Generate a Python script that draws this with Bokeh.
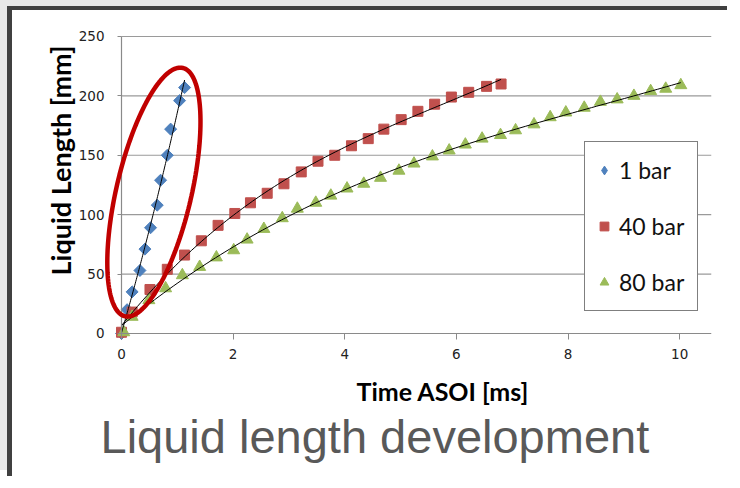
from bokeh.plotting import figure
from bokeh.models import Range1d, FixedTicker, Title, Legend, LegendItem, PolyAnnotation
from bokeh.embed import file_html
from bokeh.resources import INLINE
import numpy as np

# ---- data ----
t_1bar = [0.0, 0.10, 0.19, 0.33, 0.42, 0.52, 0.64, 0.70, 0.82, 0.88, 1.04, 1.13]
len_1bar = [0, 20, 35, 53, 71, 89, 108, 129, 150, 172, 196, 207]

t_40bar = [0.0, 0.19, 0.51, 0.82, 1.13, 1.43, 1.73, 2.03, 2.31, 2.61, 2.91, 3.22,
           3.52, 3.82, 4.12, 4.42, 4.70, 5.01, 5.31, 5.61, 5.91, 6.22, 6.54, 6.80]
len_40bar = [1, 18, 37, 54, 66, 78, 91, 101, 110, 118, 126, 136,
             145, 150, 158, 164, 172, 180, 187, 193, 199, 203, 208, 210]

t_80bar = [0.04, 0.19, 0.49, 0.79, 1.09, 1.40, 1.70, 2.01, 2.25, 2.55, 2.88, 3.15,
           3.48, 3.75, 4.04, 4.34, 4.64, 4.97, 5.24, 5.57, 5.87, 6.16, 6.46, 6.79,
           7.06, 7.39, 7.68, 7.96, 8.29, 8.58, 8.88, 9.18, 9.48, 9.75, 10.02]
len_80bar = [1, 14, 28, 38, 49, 56, 64, 70, 79, 88, 97, 105,
             110, 116, 122, 126, 131, 137, 143, 149, 154, 159, 164, 167,
             171, 176, 182, 186, 190, 195, 197, 200, 204, 206, 209]

series_names = ["1 bar", "40 bar", "80 bar"]
x_ticks = [0, 2, 4, 6, 8, 10]
y_ticks = [0, 50, 100, 150, 200, 250]
X_AXIS_MAX, Y_AXIS_MAX = 10.57, 250
# view ranges padded so the tick labels and the ellipse fit inside the plot frame
X_MIN, X_MAX = -0.914, 10.57
Y_MIN, Y_MAX = -35.4, 258.4

# highlight ellipse around the 1 bar series: centre (data), semi-axes (px), tilt (rad)
ell_cx, ell_cy = 0.58, 119.0
ell_semi_minor, ell_semi_major, ell_tilt = 37.5, 127.5, -0.229

BLUE, RED, GREEN = "#4F81BD", "#C0504D", "#9BBB59"
FRAME_W, FRAME_H = 641, 349
GRID_C = "#9a9a9a"

p = figure(width=720, height=470, output_backend="svg", toolbar_location=None,
           x_range=Range1d(X_MIN, X_MAX), y_range=Range1d(Y_MIN, Y_MAX),
           min_border_left=58, min_border_right=21, min_border_top=16,
           min_border_bottom=105, background_fill_color="white",
           border_fill_color="white")
p.styles = {"margin-left": "7px", "margin-top": "6px",
            "border-left": "5px solid #404040", "border-top": "4px solid #404040",
            "box-shadow": "-7px -6px 0 0 #e8e8e8"}
p.outline_line_color = None
p.xgrid.visible = False
p.ygrid.visible = False

# horizontal gridlines at the y ticks, only over the data range x >= 0
p.segment(x0=0, x1=X_AXIS_MAX, y0=y_ticks[1:], y1=y_ticks[1:], line_color=GRID_C,
          line_width=1.2, level="underlay")

p.xaxis.ticker = FixedTicker(ticks=x_ticks)
p.yaxis.ticker = FixedTicker(ticks=y_ticks)
p.yaxis.fixed_location = 0
p.xaxis.fixed_location = 0
p.xaxis.bounds = (0, X_AXIS_MAX)
p.yaxis.bounds = (0, Y_AXIS_MAX)
for ax in (p.xaxis[0], p.yaxis[0]):
    ax.axis_line_color = "#8a8a8a"
    ax.axis_line_width = 1.2
    ax.major_tick_line_color = "#8a8a8a"
    ax.minor_tick_line_color = None
    ax.major_tick_in = 0
    ax.major_label_text_font = "DejaVu Sans"
    ax.major_label_text_font_size = "13.5px"
    ax.major_label_text_color = "#222222"
p.xaxis.major_tick_out = 6
p.xaxis.major_label_standoff = 10
p.yaxis.major_tick_out = 4
p.yaxis.major_label_standoff = 13

# trendlines (polynomial fits of the data)
def trend(t, v, deg):
    c = np.polyfit(t, v, deg)
    xs = np.linspace(0, max(t), 120)
    return xs, np.polyval(c, xs)

# legend swatch for the diamond series (its one point sits under the first 1 bar marker)
r1_key = p.scatter(x=t_1bar[:1], y=len_1bar[:1], marker="diamond", size=12,
                   fill_color=BLUE, line_color=BLUE)
r1 = p.scatter(t_1bar, len_1bar, marker="square", angle=np.pi / 4, size=8.5,
               fill_color=BLUE, line_color=BLUE)
r40 = p.scatter(t_40bar, len_40bar, marker="square", size=10, fill_color=RED, line_color=RED)
r80 = p.scatter(t_80bar, len_80bar, marker="triangle", size=12, fill_color=GREEN, line_color=GREEN)

for t, v, d in ((t_1bar, len_1bar, 2), (t_40bar, len_40bar, 3), (t_80bar, len_80bar, 3)):
    xs, ys = trend(t, v, d)
    p.line(xs, ys, line_color="black", line_width=1)

# ellipse outline (annotation)
th = np.linspace(0, 2 * np.pi, 181)
dx = ell_semi_minor * np.cos(th)
dy = ell_semi_major * np.sin(th)
rx = dx * np.cos(ell_tilt) - dy * np.sin(ell_tilt)
ry = dx * np.sin(ell_tilt) + dy * np.cos(ell_tilt)
ell_xs = ell_cx + rx * (X_MAX - X_MIN) / FRAME_W
ell_ys = ell_cy + ry * (Y_MAX - Y_MIN) / FRAME_H
p.add_layout(PolyAnnotation(xs=list(ell_xs), ys=list(ell_ys), fill_alpha=0,
                            line_alpha=1.0, line_color="#C00000", line_width=4.5))

legend = Legend(items=[LegendItem(label=series_names[0], renderers=[r1_key]),
                       LegendItem(label=series_names[1], renderers=[r40]),
                       LegendItem(label=series_names[2], renderers=[r80])],
                location=(514, 64), padding=8, spacing=16, label_height=40,
                glyph_height=40, glyph_width=22, label_standoff=4, label_width=70,
                border_line_color="black", border_line_width=1,
                background_fill_color="white", background_fill_alpha=1.0,
                label_text_font="Lato", label_text_font_size="23px",
                label_text_color="#111111", margin=0)
p.add_layout(legend)

xlab = Title(text="Time ASOI [ms]", align="left", offset=286, text_font="Lato",
             text_font_size="25px", text_font_style="bold", text_color="#000000",
             standoff=-3)
p.add_layout(xlab, "below")
main = Title(text="Liquid length development", align="left", offset=30,
             text_font="Liberation Sans", text_font_size="47px",
             text_font_style="normal", text_color="#595959", standoff=7)
p.add_layout(main, "below")
ylab = Title(text="Liquid Length [mm]", align="left", offset=100, text_font="Lato",
             text_font_size="27px", text_font_style="bold", text_color="#000000",
             standoff=-13)
p.add_layout(ylab, "left")

open("out.html", "w").write(file_html(p, INLINE))
